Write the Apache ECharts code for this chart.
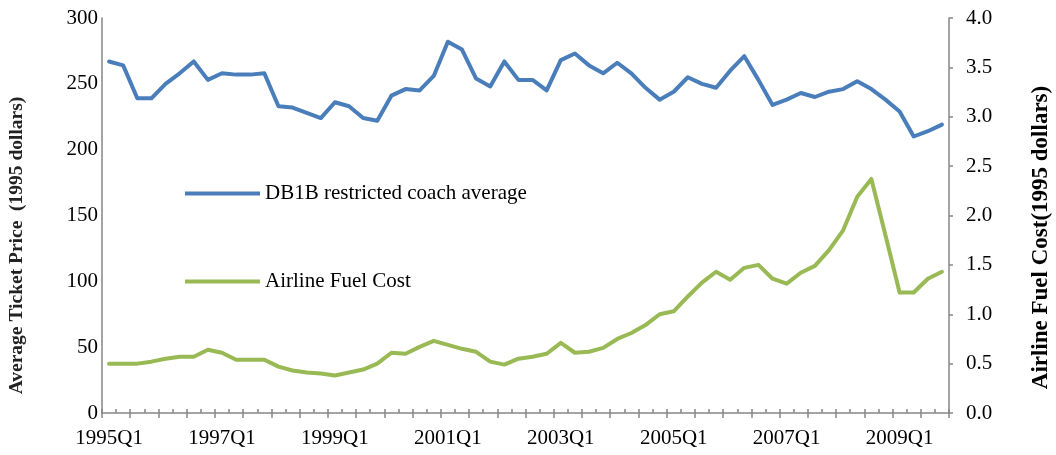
<!DOCTYPE html>
<html>
<head>
<meta charset="utf-8">
<script src="https://cdn.jsdelivr.net/npm/echarts@6/dist/echarts.min.js"></script>
<style>
  html, body { margin: 0; padding: 0; background: #fff; }
  #chart { width: 1056px; height: 455px; }
</style>
</head>
<body>
<div id="chart"></div>
<script>
// quarters 1995Q1 .. 2009Q4
const years = [1995, 1996, 1997, 1998, 1999, 2000, 2001, 2002, 2003, 2004, 2005, 2006, 2007, 2008, 2009]
const quarters = []
years.forEach(y => {
  for (let q = 1; q <= 4; q++) quarters.push(y + 'Q' + q)
})

// DB1B restricted coach average ticket price (1995 dollars), left axis
const ticketPrice = [
  267, 264, 239, 239, 250, 258, 267, 253, 258, 257,
  257, 258, 233, 232, 228, 224, 236, 233, 224, 222,
  241, 246, 245, 256, 282, 276, 254, 248, 267, 253,
  253, 245, 268, 273, 264, 258, 266, 258, 247, 238,
  244, 255, 250, 247, 260, 271, 253, 234, 238, 243,
  240, 244, 246, 252, 246, 238, 229, 210, 214, 219
]

// Airline fuel cost (1995 dollars), right axis
const fuelCost = [
  0.50, 0.50, 0.50, 0.52, 0.55, 0.57, 0.57, 0.64, 0.61, 0.54,
  0.54, 0.54, 0.47, 0.43, 0.41, 0.40, 0.38, 0.41, 0.44, 0.50,
  0.61, 0.60, 0.67, 0.73, 0.69, 0.65, 0.62, 0.52, 0.49, 0.55,
  0.57, 0.60, 0.71, 0.61, 0.62, 0.66, 0.75, 0.81, 0.89, 1.00,
  1.03, 1.18, 1.32, 1.43, 1.35, 1.47, 1.50, 1.36, 1.31, 1.42,
  1.49, 1.65, 1.85, 2.19, 2.37, 1.80, 1.22, 1.22, 1.36, 1.43
]

const serif = 'Liberation Serif'
const axisGray = '#868686'

let chart = echarts.init(document.getElementById('chart'))
let option = {
  backgroundColor: '#fff',
  animation: false,
  textStyle: { fontFamily: serif, color: '#000' },
  grid: { left: 102, right: 107, top: 18, bottom: 42, outerBoundsMode: 'none' },
  legend: {
    orient: 'vertical',
    left: 180,
    top: 178,
    itemWidth: 75,
    itemHeight: 4,
    itemGap: 67,
    icon: 'rect',
    textStyle: { fontFamily: serif, fontSize: 21, color: '#000' },
    data: ['DB1B restricted coach average', 'Airline Fuel Cost'],
  },
  xAxis: [
    {
      type: 'category',
      position: 'bottom',
      data: quarters,
      boundaryGap: true,
      axisLine: { lineStyle: { color: axisGray, width: 1.5 } },
      axisTick: { show: true, interval: 0, inside: true, length: 4, lineStyle: { color: axisGray, width: 1.5 } },
      axisLabel: { interval: 7, margin: 15, fontFamily: serif, fontSize: 21, color: '#000' },
      splitLine: { show: false },
    },
    {
      // second copy of the axis only for the longer, outward ticks
      type: 'category',
      position: 'bottom',
      data: quarters,
      boundaryGap: true,
      axisLine: { show: false },
      axisTick: { show: true, interval: 1, inside: false, length: 5, lineStyle: { color: axisGray, width: 1.5 } },
      axisLabel: { show: false },
      splitLine: { show: false },
    },
  ],
  yAxis: [
    {
      type: 'value',
      position: 'left',
      min: 0,
      max: 300,
      interval: 50,
      name: 'Average Ticket Price  (1995 dollars)',
      nameLocation: 'middle',
      nameGap: 75,
      nameTextStyle: { fontFamily: serif, fontSize: 19.5, fontWeight: 'bold', color: '#222', padding: [0, 60, 0, 0] },
      axisLine: { show: true, lineStyle: { color: axisGray, width: 1.5 } },
      axisTick: { show: false },
      axisLabel: { margin: 4, fontFamily: serif, fontSize: 21, color: '#000' },
      splitLine: { show: false },
    },
    {
      type: 'value',
      position: 'right',
      min: 0,
      max: 4,
      interval: 0.5,
      name: 'Airline Fuel Cost(1995 dollars)',
      nameLocation: 'middle',
      nameGap: 81,
      nameTextStyle: { fontFamily: serif, fontSize: 23, fontWeight: 'bold', color: '#000', padding: [0, 44, 0, 0] },
      axisLine: { show: true, lineStyle: { color: axisGray, width: 1.5 } },
      axisTick: { show: true, inside: false, length: 4, lineStyle: { color: axisGray, width: 1.5 } },
      axisLabel: { margin: 17, fontFamily: serif, fontSize: 21, color: '#000', formatter: v => v.toFixed(1) },
      splitLine: { show: false },
    },
  ],
  series: [
    {
      name: 'DB1B restricted coach average',
      type: 'line',
      xAxisIndex: 0,
      yAxisIndex: 0,
      data: ticketPrice,
      symbol: 'none',
      color: '#4a7ebb',
      lineStyle: { width: 4, color: '#4a7ebb', join: 'round', cap: 'round' },
    },
    {
      name: 'Airline Fuel Cost',
      type: 'line',
      xAxisIndex: 0,
      yAxisIndex: 1,
      data: fuelCost,
      symbol: 'none',
      color: '#98b954',
      lineStyle: { width: 4, color: '#98b954', join: 'round', cap: 'round' },
    },
  ],
}
chart.setOption(option)
</script>
</body>
</html>
